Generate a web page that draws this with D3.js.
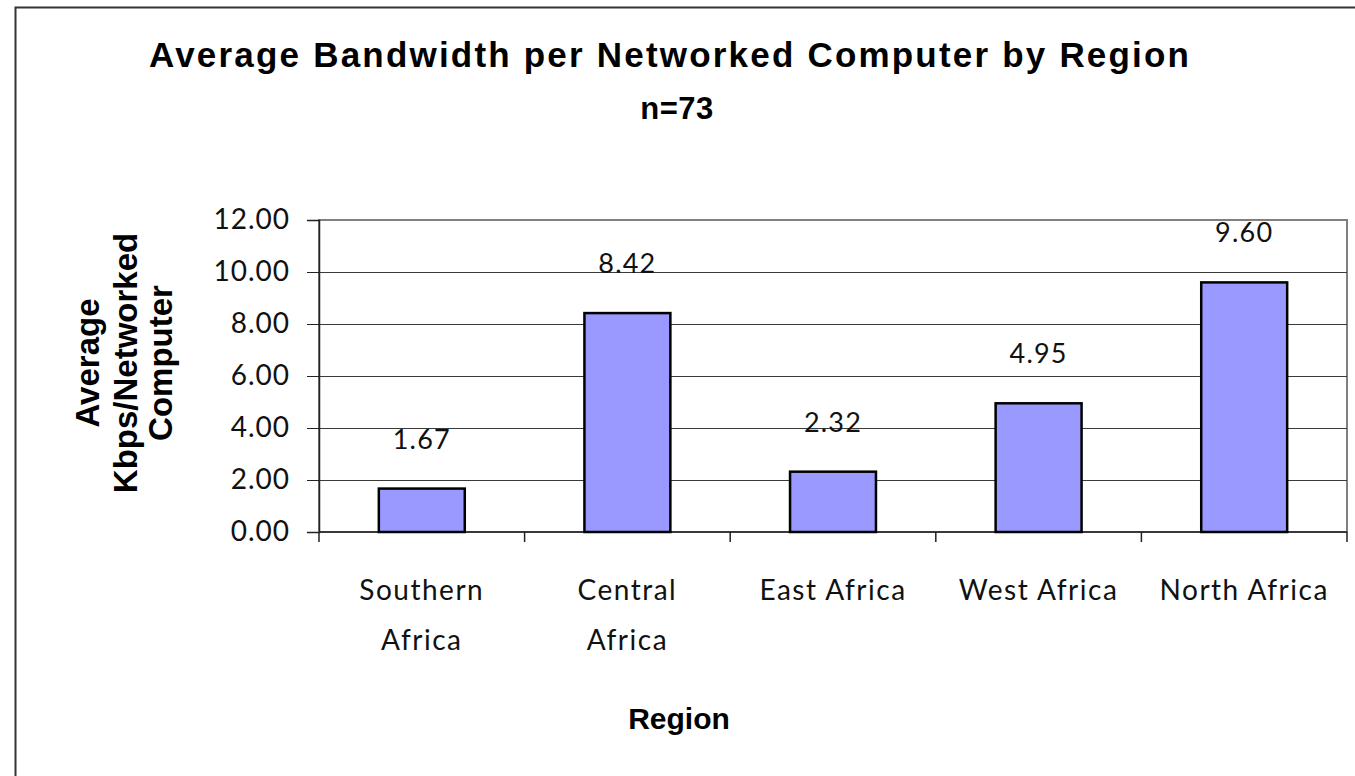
<!DOCTYPE html>
<html>
<head>
<meta charset="utf-8">
<script src="https://cdn.jsdelivr.net/npm/d3@7"></script>
<style>
  body { margin: 0; background: #fff; }
  svg { display: block; }
</style>
</head>
<body>
<svg id="chart" width="1355" height="776"></svg>
<script>
// Regions and their average bandwidth per networked computer (Kbps)
const categories = ["Southern Africa", "Central Africa", "East Africa", "West Africa", "North Africa"];
const categoryLines = [["Southern", "Africa"], ["Central", "Africa"], ["East Africa"], ["West Africa"], ["North Africa"]];
const values = [1.67, 8.42, 2.32, 4.95, 9.60];
const yTicks = [0, 2, 4, 6, 8, 10, 12];
const yTickLabels = ["0.00", "2.00", "4.00", "6.00", "8.00", "10.00", "12.00"];
const titleLines = ["Average Bandwidth per Networked Computer by Region", "n=73"];
const yTitleLines = ["Average", "Kbps/Networked", "Computer"];
const xTitle = "Region";

const svg = d3.select("#chart");
const W = 1355, H = 776;
const plot = { left: 319, right: 1347, top: 220, bottom: 532 };

const labelFont = "Lato, 'Noto Sans', sans-serif";
const boldFont = "'Liberation Sans', Arial, sans-serif";

// outer chart frame
svg.append("rect")
  .attr("x", 15.5).attr("y", 7.5)
  .attr("width", W + 20).attr("height", H + 20)
  .attr("fill", "#fff").attr("stroke", "#333").attr("stroke-width", 2);

const x = d3.scaleBand()
  .domain(categories)
  .range([plot.left, plot.right])
  .paddingInner(0.582)
  .paddingOuter(0.291);

const y = d3.scaleLinear().domain([0, 12]).range([plot.bottom, plot.top]);

// plot area border
svg.append("rect")
  .attr("x", plot.left).attr("y", plot.top)
  .attr("width", plot.right - plot.left).attr("height", plot.bottom - plot.top)
  .attr("fill", "none").attr("stroke", "#808080").attr("stroke-width", 2);

// horizontal gridlines
svg.append("g")
  .selectAll("line")
  .data(yTicks.filter(t => t > 0 && t < 12))
  .join("line")
  .attr("x1", plot.left).attr("x2", plot.right)
  .attr("y1", d => Math.round(y(d)) + 0.5).attr("y2", d => Math.round(y(d)) + 0.5)
  .attr("stroke", "#3a3a3a").attr("stroke-width", 1);

// y axis
const yAxis = d3.axisLeft(y)
  .tickValues(yTicks)
  .tickSize(12)
  .tickPadding(17)
  .tickFormat((d, i) => yTickLabels[i]);

const gy = svg.append("g")
  .attr("transform", `translate(${plot.left},0)`)
  .call(yAxis);
gy.select(".domain").attr("stroke", "#222").attr("stroke-width", 1.5);
gy.selectAll(".tick line").attr("stroke", "#222");
gy.selectAll(".tick text")
  .attr("font-family", labelFont)
  .attr("font-size", 28)
  .attr("letter-spacing", 1)
  .attr("fill", "#111");

// x axis baseline and category tick marks
svg.append("line")
  .attr("x1", plot.left).attr("x2", plot.right)
  .attr("y1", plot.bottom).attr("y2", plot.bottom)
  .attr("stroke", "#222").attr("stroke-width", 1.5);

const step = x.step();
const tickXs = categories.map((c, i) => plot.left + i * step).concat([plot.right]);
svg.append("g")
  .selectAll("line")
  .data(tickXs)
  .join("line")
  .attr("x1", d => d).attr("x2", d => d)
  .attr("y1", plot.bottom).attr("y2", plot.bottom + 10)
  .attr("stroke", "#222").attr("stroke-width", 1.5);

// bars
svg.append("g")
  .selectAll("rect")
  .data(values)
  .join("rect")
  .attr("x", (d, i) => x(categories[i]))
  .attr("y", d => y(d))
  .attr("width", x.bandwidth())
  .attr("height", d => y(0) - y(d))
  .attr("fill", "#9999FF")
  .attr("stroke", "#000")
  .attr("stroke-width", 2.5);

// value labels
svg.append("g")
  .selectAll("text")
  .data(values)
  .join("text")
  .attr("x", (d, i) => x(categories[i]) + x.bandwidth() / 2)
  .attr("y", d => y(d) - 40)
  .attr("text-anchor", "middle")
  .attr("font-family", labelFont)
  .attr("font-size", 27)
  .attr("letter-spacing", 1.2)
  .attr("fill", "#111")
  .text(d => d.toFixed(2));

// category labels
const catG = svg.append("g");
categoryLines.forEach((lines, i) => {
  const cx = x(categories[i]) + x.bandwidth() / 2;
  lines.forEach((ln, j) => {
    catG.append("text")
      .attr("x", cx)
      .attr("y", 600 + j * 50)
      .attr("text-anchor", "middle")
      .attr("font-family", labelFont)
      .attr("font-size", 28)
      .attr("letter-spacing", 1.5)
      .attr("fill", "#111")
      .text(ln);
  });
});

// chart title
svg.append("text")
  .attr("x", 669).attr("y", 67)
  .attr("text-anchor", "middle")
  .attr("font-family", boldFont)
  .attr("font-weight", "bold")
  .attr("font-size", 35)
  .attr("textLength", 1040)
  .attr("lengthAdjust", "spacing")
  .text(titleLines[0]);
svg.append("text")
  .attr("x", 677).attr("y", 119)
  .attr("text-anchor", "middle")
  .attr("font-family", boldFont)
  .attr("font-weight", "bold")
  .attr("font-size", 31)
  .attr("letter-spacing", 0.5)
  .text(titleLines[1]);

// y axis title (three rotated lines)
const yTitleX = [99, 137, 172];
yTitleLines.forEach((ln, i) => {
  svg.append("text")
    .attr("transform", `translate(${yTitleX[i]},363) rotate(-90)`)
    .attr("text-anchor", "middle")
    .attr("font-family", boldFont)
    .attr("font-weight", "bold")
    .attr("font-size", 33)
    .text(ln);
});

// x axis title
svg.append("text")
  .attr("x", 679).attr("y", 729)
  .attr("text-anchor", "middle")
  .attr("font-family", boldFont)
  .attr("font-weight", "bold")
  .attr("font-size", 30)
  .text(xTitle);
</script>
</body>
</html>
